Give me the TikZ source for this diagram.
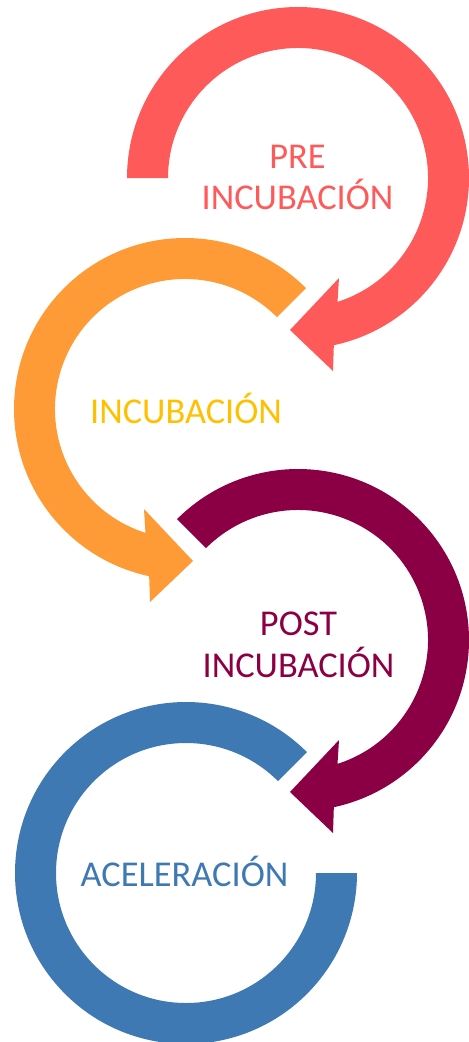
\documentclass[tikz,border=0pt]{standalone}
\usepackage{fontspec}
\setmainfont{Carlito}
\usetikzlibrary{positioning}
\definecolor{prered}{RGB}{255,90,90}
\definecolor{incorange}{RGB}{255,155,55}
\definecolor{incyellow}{RGB}{255,192,0}
\definecolor{postmaroon}{RGB}{139,0,69}
\definecolor{accblue}{RGB}{62,121,180}
\begin{document}
\begin{tikzpicture}
[
x=0.02cm, y=0.02cm,
ringarrow/.style={draw=none},
steplabel/.style={font=\fontsize{20.7}{23.8}\selectfont, align=center, inner sep=0pt},
]
\useasboundingbox (0,0) rectangle (469,-1042);
%draw the pre incubation arrow
\begin{scope}[shift={(298,-178)}]
\fill[ringarrow, prered] (180:171) arc[start angle=180, end angle=-77.9, radius=171] -- (35,-193) -- (-8,-152) -- (41,-100) -- (-72.3:130) arc[start angle=-72.3, end angle=180, radius=130] -- cycle;
\end{scope}
\node[steplabel, text=prered] (pre) at (297.5,-177.5) {PRE\\INCUBACIÓN};
%draw the incubation arrow
\begin{scope}[shift={(185,-409)}]
\fill[ringarrow, incorange] (45:171) arc[start angle=45, end angle=257.9, radius=171] -- (-35,-193) -- (8,-152) -- (-41,-100) -- (252.3:130) arc[start angle=252.3, end angle=45, radius=130] -- cycle;
\end{scope}
\node[steplabel, text=incyellow, anchor=base] (inc) at (186,-423) {INCUBACIÓN};
%draw the post incubation arrow
\begin{scope}[shift={(298,-640)}]
\fill[ringarrow, postmaroon] (135:171) arc[start angle=135, end angle=-77.9, radius=171] -- (35,-193) -- (-8,-152) -- (41,-100) -- (-72.3:130) arc[start angle=-72.3, end angle=135, radius=130] -- cycle;
\end{scope}
\node[steplabel, text=postmaroon] (post) at (298.5,-645) {POST\\INCUBACIÓN};
%draw the acceleration ring
\begin{scope}[shift={(186,-873)}]
\fill[ringarrow, accblue] (45:171) arc[start angle=45, end angle=360, radius=171] -- (0:130) arc[start angle=360, end angle=45, radius=130] -- cycle;
\end{scope}
\node[steplabel, text=accblue, anchor=base] (acc) at (184.5,-886) {ACELERACIÓN};
\end{tikzpicture}
\end{document}
